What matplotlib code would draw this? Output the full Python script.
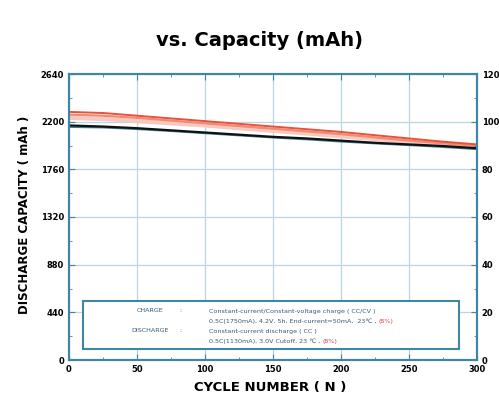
import numpy as np
import matplotlib.pyplot as plt
from matplotlib.text import Annotation

cycles = [0, 25, 50, 75, 100, 125, 150, 175, 200, 225, 250, 275, 300]
cell_red = [2290, 2280, 2255, 2230, 2205, 2180, 2155, 2130, 2105, 2075, 2045, 2015, 1990]
cell_salmon = [2265, 2255, 2235, 2210, 2185, 2160, 2135, 2110, 2085, 2055, 2025, 2000, 1975]
cell_pink = [2235, 2225, 2205, 2185, 2165, 2140, 2115, 2090, 2065, 2040, 2015, 1990, 1965]
cell_black = [2165, 2155, 2140, 2120, 2100, 2080, 2060, 2045, 2025, 2005, 1990, 1975, 1955]
cell_teal = [2150, 2145, 2130, 2112, 2092, 2072, 2052, 2035, 2015, 1998, 1982, 1965, 1945]

y_ticks = [0, 440, 880, 1320, 1760, 2200, 2640]
pct_ticks = [0, 20, 40, 60, 80, 100, 120]
x_ticks = [0, 50, 100, 150, 200, 250, 300]

spine_c = '#3f86a0'
grid_c = '#b9d6e2'

fig = plt.figure(figsize=(4.99, 4.01), dpi=100)
ax = fig.add_axes([69/499, 1-360/401, 408/499, 286/401])

ax.plot(cycles, cell_pink, color='#f6c9c0', lw=3.0)
ax.plot(cycles, cell_salmon, color='#f08a70', lw=1.6)
ax.plot(cycles, cell_red, color='#e8503a', lw=1.4)
ax.plot(cycles, cell_teal, color='#3b7f90', lw=1.2)
ax.plot(cycles, cell_black, color='#111111', lw=1.6)

ax.set_xlim(0, 300)
ax.set_ylim(0, 2640)
ax.set_xticks(x_ticks)
ax.set_xticks(np.arange(25, 300, 50), minor=True)
ax.set_yticks(y_ticks)
ax.set_yticks(np.arange(220, 2640, 440), minor=True)
ax.grid(True, which='major', color=grid_c, lw=0.9)
ax.tick_params(which='both', direction='in', color=spine_c, labelsize=6,
               top=True, length=4)
ax.tick_params(which='minor', length=2.5)
for lab in ax.get_xticklabels() + ax.get_yticklabels():
    lab.set_fontweight('bold')
for s in ax.spines.values():
    s.set_color(spine_c)
    s.set_linewidth(1.5)

# right axis in percent
ax2 = ax.twinx()
ax2.set_ylim(0, 120)
ax2.set_yticks(pct_ticks)
ax2.set_yticks(np.arange(10, 120, 20), minor=True)
ax2.tick_params(which='both', direction='in', color=spine_c, labelsize=6, length=4)
ax2.tick_params(which='minor', length=2.5)
for lab in ax2.get_yticklabels():
    lab.set_fontweight('bold')
for s in ax2.spines.values():
    s.set_color(spine_c)
    s.set_linewidth(1.5)

fig.text(270/499, 1-387/401, 'CYCLE NUMBER ( N )', fontsize=9.5, fontweight='bold',
         ha='center', va='center')
fig.text(25/499, 1-215/401, 'DISCHARGE CAPACITY ( mAh )', fontsize=8.5, fontweight='bold',
         ha='center', va='center', rotation=90)

fig.text(0.52, 0.9, 'vs. Capacity (mAh)', ha='center', va='center',
         fontsize=14, fontweight='bold')

# condition box
box = plt.Rectangle((83/499, 1-349/401), 376/499, 48/401, transform=fig.transFigure,
                    facecolor='white', edgecolor=spine_c, lw=1.5, zorder=5)
fig.add_artist(box)
tc = '#3a5a78'
fs = 4.6
fig.text(150/499, 1-311/401, 'CHARGE', fontsize=fs, color=tc, ha='center', va='center', zorder=6)
fig.text(180/499, 1-311/401, ':', fontsize=fs, color=tc, ha='center', va='center', zorder=6)
fig.text(150/499, 1-331/401, 'DISCHARGE', fontsize=fs, color=tc, ha='center', va='center', zorder=6)
fig.text(180/499, 1-331/401, ':', fontsize=fs, color=tc, ha='center', va='center', zorder=6)
fig.text(209/499, 1-311/401, 'Constant-current/Constant-voltage charge ( CC/CV )',
         fontsize=fs, color=tc, va='center', zorder=6)
t1 = fig.text(209/499, 1-321/401, '0.5C(1750mA), 4.2V, 5h, End-current=50mA,  23\u2103 , ',
              fontsize=fs, color=tc, va='center', zorder=6)
fig.text(209/499, 1-331/401, 'Constant-current discharge ( CC )',
         fontsize=fs, color=tc, va='center', zorder=6)
t2 = fig.text(209/499, 1-341/401, '0.5C(1130mA), 3.0V Cutoff, 23 \u2103 , ',
              fontsize=fs, color=tc, va='center', zorder=6)
# red notes right after each condition line
for t in (t1, t2):
    fig.add_artist(Annotation('(8%)', xy=(1, 0.5), xycoords=t, va='center',
                              fontsize=fs, color='#e04040', zorder=6))

fig.savefig('out.png', dpi=100)
